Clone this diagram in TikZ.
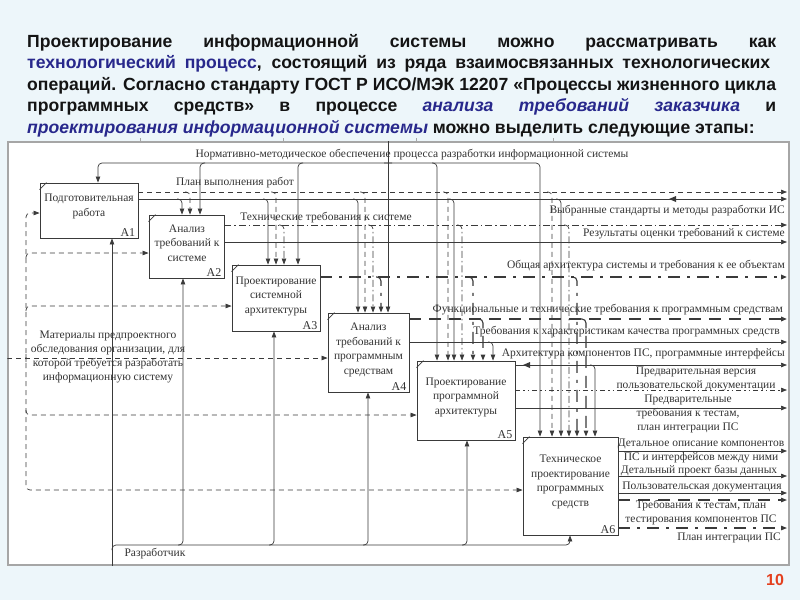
\documentclass[tikz,border=0pt]{standalone}
\usepackage{fontspec}
\setmainfont{Liberation Serif}
\newfontfamily\hdr{Liberation Sans}
\usetikzlibrary{arrows.meta}
\definecolor{bg}{HTML}{EDF6FA}
\definecolor{lnc}{HTML}{3A3A3A}
\definecolor{hblue}{HTML}{28288C}
\definecolor{pnum}{HTML}{E4401E}
\tikzset{
  ln/.style={draw=lnc, line width=0.7pt, rounded corners=4pt},
  ar/.style={-{Triangle[length=6pt,width=4.5pt]}},
  dsh/.style={dash pattern=on 5pt off 4pt},
  dd/.style={dash pattern=on 7pt off 3pt on 1.5pt off 3pt},
  tdd/.style={line width=1.5pt, dash pattern=on 12pt off 7pt on 3pt off 7pt},
  tdsh/.style={line width=1.5pt, dash pattern=on 12pt off 8pt},
  ddd/.style={dash pattern=on 5pt off 3pt on 1.5pt off 3pt on 1.5pt off 3pt},
  box/.style={draw=lnc, line width=0.9pt, fill=white, inner sep=0pt},
  btxt/.style={font=\fontsize{11.5}{14.5}\selectfont, align=center, text=black!80, inner sep=0pt},
  lbl/.style={font=\fontsize{11.5}{14}\selectfont, align=center, text=black!80, inner sep=0pt},
  idl/.style={font=\fontsize{12}{12}\selectfont, text=black!80, inner sep=0pt, anchor=south east},
  hd/.style={anchor=base west, inner sep=0pt, text=black!92, font=\hdr\bfseries\fontsize{17.6}{21}\selectfont},
}
\begin{document}
\begin{tikzpicture}[x=1pt,y=-1pt]
\useasboundingbox (0,0) rectangle (800,600);
\fill[bg] (0,0) rectangle (800,600);

% header text
\node[hd] (h1) at (27,47) {\makebox[749pt][s]{Проектирование информационной системы можно рассматривать как}};
\node[hd] (h2) at (27,68) {\makebox[743pt][s]{\textcolor{hblue}{технологический процесс}, состоящий из ряда взаимосвязанных технологических}};
\node[hd] (h3) at (27,90) {\makebox[749pt][s]{операций. Согласно стандарту ГОСТ Р ИСО/МЭК 12207 «Процессы жизненного цикла}};
\node[hd] (h4) at (27,111) {\makebox[749pt][s]{программных средств» в процессе \textcolor{hblue}{\itshape анализа требований заказчика} и}};
\node[hd] (h5) at (27,133) {\textcolor{hblue}{\itshape проектирования информационной системы} можно выделить следующие этапы:};

% frame
\node[draw=gray!70, line width=1.2pt, fill=white, minimum width=781pt, minimum height=423pt, inner sep=0pt] (frame) at (398.5,353.5) {};
\foreach \tx in {140,283,416,553} \draw[gray!70, line width=0.8pt] (\tx,138) -- (\tx,142);

% boxes
\node[box, minimum width=98pt, minimum height=55pt] (A1) at (89,210.5) {};
\node[box, minimum width=75pt, minimum height=63pt] (A2) at (186.5,246.5) {};
\node[box, minimum width=88pt, minimum height=66pt] (A3) at (276,298) {};
\node[box, minimum width=81pt, minimum height=79pt] (A4) at (368.5,352.5) {};
\node[box, minimum width=98pt, minimum height=79pt] (A5) at (466,400.5) {};
\node[box, minimum width=95pt, minimum height=98pt] (A6) at (570.5,486) {};
\foreach \b in {A1,A2,A3,A4,A5,A6}{
  \draw[draw=lnc, line width=0.6pt] ([yshift=-7pt]\b.north west) -- ([xshift=7pt]\b.north west);
  \node[idl] at ([xshift=-3pt,yshift=2pt]\b.south east) {\b};
}
\node[btxt] (t1) at (89,206.5) {Подготовительная\\работа};
\node[btxt] (t2) at (187,243) {Анализ\\требований к\\системе};
\node[btxt] (t3) at (276,296) {Проектирование\\системной\\архитектуры};
\node[btxt] (t4) at (368.5,350) {Анализ\\требований к\\программным\\средствам};
\node[btxt] (t5) at (466,397) {Проектирование\\программной\\архитектуры};
\node[btxt] (t6) at (570.5,482) {Техническое\\проектирование\\программных\\средств};

\begin{scope}
\clip (frame.north west) rectangle (frame.south east);
% control: normative
\draw[ln,ar] (388,0 |- frame.north) -- (388,0 |- A4.north);
\draw[ln,ar] (392,163) -- (98,163) -- (98,0 |- A1.north);
\draw[ln,ar] (384,163) -- (540,163) -- (540,0 |- A6.north);
\draw[ln,ar] (205,163) -- (200,163) -- (200,0 |- A2.north);
\draw[ln,ar] (303,163) -- (298,163) -- (298,0 |- A3.north);
\draw[ln,ar] (432,163) -- (437,163) -- (437,0 |- A5.north);

% A1 outputs
\draw[ln,dsh,ar] (A1.east |- 0,192) -- (787,192);
\draw[ln,ar] (A1.east |- 0,199) -- (787,199);
\draw[ln,dsh,ar] (185,192) -- (190,192) -- (190,0 |- A2.north);
\draw[ln,dsh,ar] (271,192) -- (276,192) -- (276,0 |- A3.north);
\draw[ln,dsh,ar] (360,192) -- (365,192) -- (365,0 |- A4.north);
\draw[ln,dsh,ar] (443,192) -- (448,192) -- (448,0 |- A5.north);
\draw[ln,dsh,ar] (547,192) -- (552,192) -- (552,0 |- A6.north);
\draw[ln,ar] (177,199) -- (182,199) -- (182,0 |- A2.north);
\draw[ln,ar] (263,199) -- (268,199) -- (268,0 |- A3.north);
\draw[ln,ar] (353,199) -- (358,199) -- (358,0 |- A4.north);
\draw[ln,ar] (449,199) -- (454,199) -- (454,0 |- A5.north);
\draw[ln,ar] (556,199) -- (561,199) -- (561,0 |- A6.north);
\fill[lnc] (669,199) -- (676,196) -- (676,202) -- cycle;

% A2 outputs
\draw[ln,dd,ar] (A2.east |- 0,225) -- (787,225);
\draw[ln,ar] (A2.east |- 0,242) -- (787,242);
\draw[ln,dd,ar] (279,225) -- (284,225) -- (284,0 |- A3.north);
\draw[ln,dd,ar] (368,225) -- (373,225) -- (373,0 |- A4.north);
\draw[ln,dd,ar] (457,225) -- (462,225) -- (462,0 |- A5.north);
\draw[ln,dd,ar] (564,225) -- (569,225) -- (569,0 |- A6.north);

% A3 output
\draw[ln,tdd,ar] (A3.east |- 0,277) -- (787,277);
\draw[ln,tdd,line width=1.1pt,ar] (376,277) -- (381,277) -- (381,0 |- A4.north);
\draw[ln,tdd,line width=1.1pt,ar] (468,277) -- (473,277) -- (473,0 |- A5.north);
\draw[ln,tdd,line width=1.1pt,ar] (572,277) -- (577,277) -- (577,0 |- A6.north);

% A4 outputs
\draw[ln,tdsh,ar] (A4.east |- 0,319) -- (787,319);
\draw[ln,ar] (A4.east |- 0,342) -- (787,342);
\draw[ln,tdsh,line width=1.1pt,ar] (478,319) -- (483,319) -- (483,0 |- A5.north);
\draw[ln,tdsh,line width=1.1pt,ar] (581,319) -- (586,319) -- (586,0 |- A6.north);
\draw[ln,ar] (488,342) -- (493,342) -- (493,0 |- A5.north);

% A5 outputs
\draw[ln,ar] (A5.east |- 0,365) -- (787,365);
\draw[ln,ddd,ar] (A5.east |- 0,390) -- (787,390);
\draw[ln,ar] (A5.east |- 0,408) -- (787,408);
\draw[ln,ar] (590,365) -- (595,365) -- (595,0 |- A6.north);
\fill[lnc] (523,365) -- (530,362) -- (530,368) -- cycle;

% A6 outputs
\draw[ln,ar] (A6.east |- 0,451) -- (787,451);
\draw[ln,ar] (A6.east |- 0,476) -- (787,476);
\draw[ln,ar] (A6.east |- 0,493) -- (787,493);
\draw[ln,tdsh,line width=1.2pt,ar] (A6.east |- 0,500) -- (787,500);
\draw[ln,tdd,line width=1.2pt,ar] (A6.east |- 0,528) -- (787,528);

% input
\draw[ln,dsh,ar] (frame.west |- 0,358) -- (A4.west |- 0,358);
\draw[ln,dsh,ar] (26,362) -- (26,213) -- (A1.west |- 0,213);
\draw[ln,dsh,ar] (26,354) -- (26,490) -- (A6.west |- 0,490);
\draw[ln,dsh,ar] (26,258) -- (26,253) -- (A2.west |- 0,253);
\draw[ln,dsh,ar] (26,311) -- (26,306) -- (A3.west |- 0,306);
\draw[ln,dsh,ar] (26,410) -- (26,415) -- (A5.west |- 0,415);

% mechanism
\draw[ln,ar] (112,0 |- frame.south) -- (112,0 |- A1.south);
\draw[ln,ar] (112,550) -- (112,545) -- (570,545) -- (570,0 |- A6.south);
\draw[ln,ar] (178,545) -- (183,545) -- (183,0 |- A2.south);
\draw[ln,ar] (269,545) -- (274,545) -- (274,0 |- A3.south);
\draw[ln,ar] (363,545) -- (368,545) -- (368,0 |- A4.south);
\draw[ln,ar] (462,545) -- (467,545) -- (467,0 |- A5.south);
\end{scope}

% labels
\node[lbl] (l1) at (412,155) {Нормативно-методическое обеспечение процесса разработки информационной системы};
\node[lbl] (l2) at (235,183) {План выполнения работ};
\node[lbl] (l3) at (326,218) {Технические требования к системе};
\node[lbl,anchor=east] (l4) at (785,211) {Выбранные стандарты и методы разработки ИС};
\node[lbl,anchor=east] (l5) at (785,234) {Результаты оценки требований к системе};
\node[lbl,anchor=east] (l6) at (785,266) {Общая архитектура системы и требования к ее объектам};
\node[lbl,anchor=east] (l7) at (783,310) {Функциональные и технические требования к программным средствам};
\node[lbl,anchor=east] (l8) at (780,332) {Требования к характеристикам качества программных средств};
\node[lbl,anchor=east] (l9) at (785,354) {Архитектура компонентов ПС, программные интерфейсы};
\node[lbl] (l10) at (696,378.5) {Предварительная версия\\пользовательской документации};
\node[lbl] (l11) at (688,414) {Предварительные\\требования к тестам,\\план интеграции ПС};
\node[lbl] (l12) at (701,451) {Детальное описание компонентов\\ПС и интерфейсов между ними};
\node[lbl] (l13) at (699,471) {Детальный проект базы данных};
\node[lbl] (l14) at (702,487) {Пользовательская документация};
\node[lbl] (l15) at (701,513) {Требования к тестам, план\\тестирования компонентов ПС};
\node[lbl] (l16) at (729,538) {План интеграции ПС};
\node[lbl, font=\fontsize{11.5}{14.3}\selectfont] (l17) at (108,357) {Материалы предпроектного\\обследования организации, для\\которой требуется разработать\\информационную систему};
\node[lbl] (l18) at (155,554) {Разработчик};

% page number
\node[font=\hdr\bfseries\fontsize{16}{16}\selectfont, text=pnum, inner sep=0pt] (pg) at (775,580) {10};
\end{tikzpicture}
\end{document}
